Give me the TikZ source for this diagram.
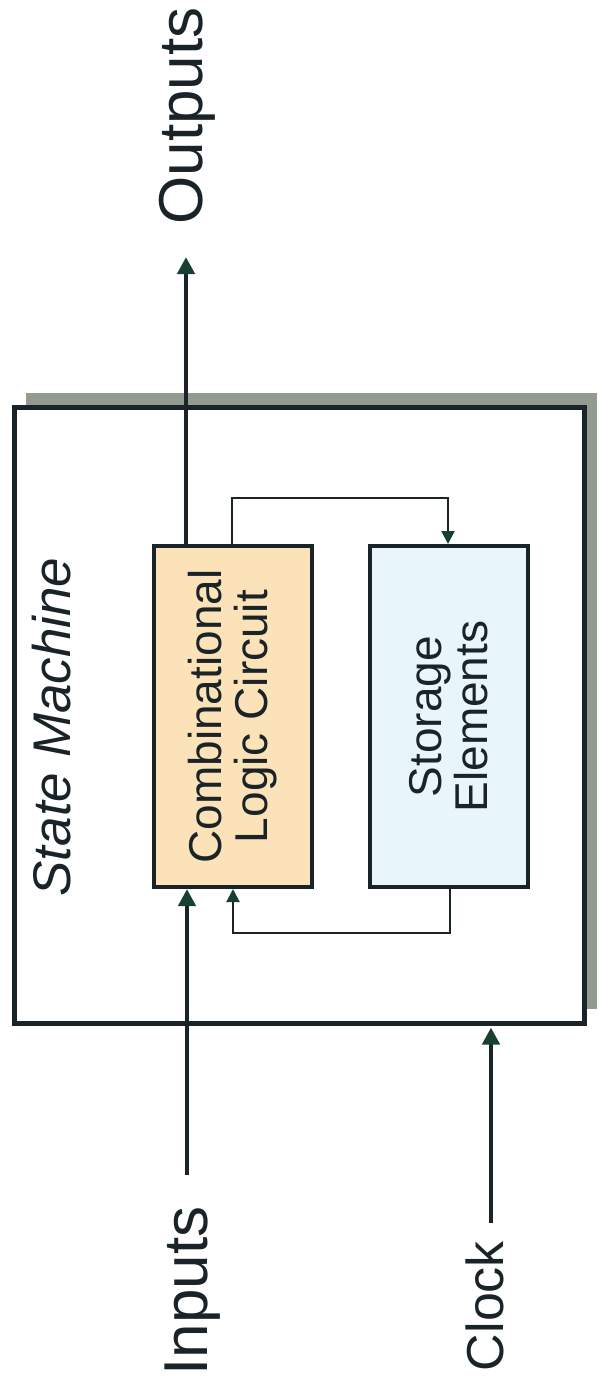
\documentclass[tikz,border=0pt]{standalone}
\usepackage{fontspec}
\setmainfont{Liberation Sans}
\usepackage{tikz}
\usetikzlibrary{positioning,calc}
\usetikzlibrary{arrows.meta}
\definecolor{LogicOrange}{RGB}{251,226,184}
\definecolor{StoreBlue}{RGB}{232,246,251}
\definecolor{ShadeGray}{RGB}{146,155,141}
\definecolor{LineDark}{RGB}{26,36,40}
\definecolor{TipGreen}{RGB}{24,64,48}
\tikzset{
  block/.style={draw=LineDark,line width=4pt,inner sep=0pt},
  frame/.style={draw=LineDark,line width=5pt,fill=white,inner sep=0pt},
  bus/.style={draw=LineDark,line width=4.5pt,
    -{Triangle[width=17pt,length=17pt,fill=TipGreen,color=TipGreen]}},
  wire/.style={draw=LineDark,line width=2pt,
    -{Triangle[width=13pt,length=13pt,fill=TipGreen,color=TipGreen]}},
  sidetxt/.style={rotate=90,inner sep=0pt,text=LineDark,
    font=\fontsize{62pt}{70pt}\selectfont},
  boxtxt/.style={rotate=90,inner sep=0pt,text=LineDark,align=center,
    font=\fontsize{46pt}{46pt}\selectfont},
}

\begin{document}
\begin{tikzpicture}[x=1pt,y=-1pt]
\useasboundingbox (0,0) rectangle (598,1386);
\fill[ShadeGray] (26,393) rectangle (597,1009);
\node[frame,minimum width=570pt,minimum height=616pt] (sm) at (299,715) {};
\node[block,fill=LogicOrange,minimum width=158pt,minimum height=341pt] (clc) at (233,716.5) {};
\node[block,fill=StoreBlue,minimum width=158pt,minimum height=341pt] (st) at (449,716.5) {};
\node[sidetxt,font=\fontsize{53pt}{60pt}\selectfont\itshape] (smtxt) at (52,727) {State Machine};
\node[boxtxt] (clctxt) at (clc) {Combinational\\Logic Circuit};
\node[boxtxt] (sttxt) at (st) {Storage\\Elements};
\coordinate (outtip) at (186,257);
\coordinate (inend) at (187,1175);
\coordinate (clkend) at (491,1223);
\coordinate (fbA) at (232,498);
\coordinate (fbB) at (448,498);
\coordinate (fbC) at (450,933);
\coordinate (fbD) at (233,933);
\node[sidetxt] (outtxt) at (187,116) {Outputs};
\node[sidetxt] (intxt) at (193,1291) {Inputs};
\node[sidetxt,font=\fontsize{52pt}{60pt}\selectfont] (clktxt) at (485,1306) {Clock};
\draw[bus] (clc.north -| outtip) -- (outtip);
\draw[bus] (inend) -- (inend |- clc.south);
\draw[bus,shorten >=2pt] (clkend) -- (clkend |- sm.south);
\draw[wire] (clc.north -| fbA) -- (fbA) -- (fbB) -- (fbB |- st.north);
\draw[wire] (st.south -| fbC) -- (fbC) -- (fbD) -- (fbD |- clc.south);
\end{tikzpicture}
\end{document}
